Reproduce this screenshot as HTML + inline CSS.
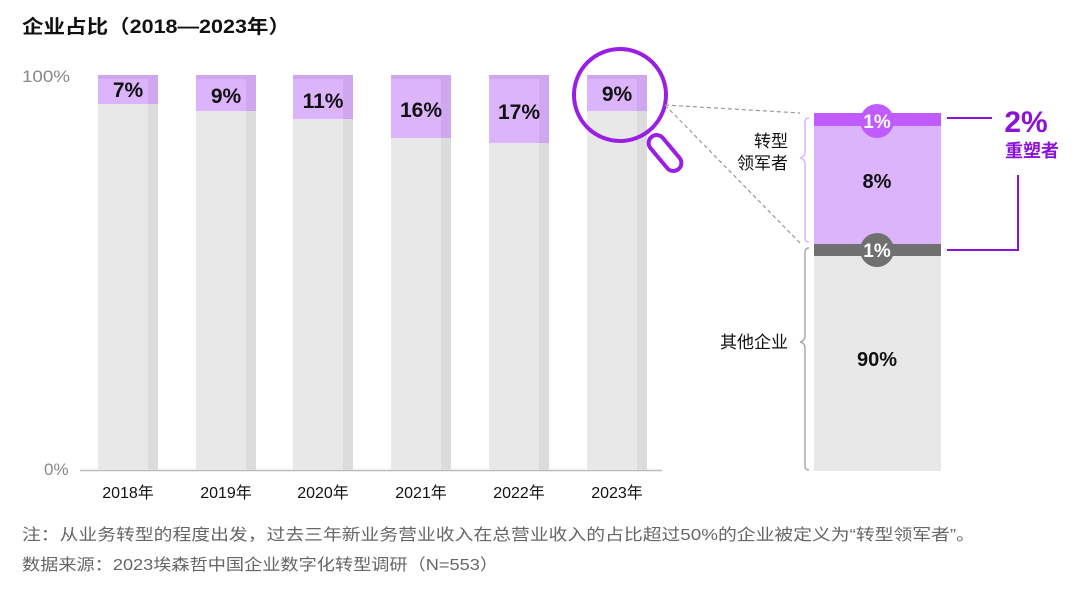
<!DOCTYPE html>
<html><head><meta charset="utf-8"><style>
body{margin:0;background:#fff;}
svg text{font-family:"Liberation Sans","Noto Sans CJK SC",sans-serif;}
</style></head><body>
<svg width="1080" height="592" viewBox="0 0 1080 592" xmlns="http://www.w3.org/2000/svg">
<rect width="1080" height="592" fill="#fff"/>
<text x="22" y="33" font-size="19" font-weight="bold" fill="#111" textLength="268" lengthAdjust="spacingAndGlyphs">企业占比（2018—2023年）</text>
<text x="22" y="82" font-size="17" fill="#888" textLength="48" lengthAdjust="spacingAndGlyphs">100%</text>
<text x="44" y="475" font-size="17" fill="#888">0%</text>
<line x1="80" y1="470.5" x2="662" y2="470.5" stroke="#bbb" stroke-width="1.5"/>
<g>
<rect x="98" y="75" width="60" height="395" fill="#e8e8e8"/><rect x="148" y="75" width="10" height="395" fill="#dcdcdc"/>
<rect x="98" y="75" width="60" height="29" fill="#dcb4fc"/><rect x="148" y="75" width="10" height="29" fill="#d0a6ef"/><rect x="98" y="75" width="60" height="4" fill="#d0a6ef"/>
<text x="128" y="97" font-size="21" font-weight="bold" text-anchor="middle" fill="#111">7%</text>

<rect x="196" y="75" width="60" height="395" fill="#e8e8e8"/><rect x="246" y="75" width="10" height="395" fill="#dcdcdc"/>
<rect x="196" y="75" width="60" height="36" fill="#dcb4fc"/><rect x="246" y="75" width="10" height="36" fill="#d0a6ef"/><rect x="196" y="75" width="60" height="4" fill="#d0a6ef"/>
<text x="226" y="103" font-size="21" font-weight="bold" text-anchor="middle" fill="#111">9%</text>

<rect x="293" y="75" width="60" height="395" fill="#e8e8e8"/><rect x="343" y="75" width="10" height="395" fill="#dcdcdc"/>
<rect x="293" y="75" width="60" height="44" fill="#dcb4fc"/><rect x="343" y="75" width="10" height="44" fill="#d0a6ef"/><rect x="293" y="75" width="60" height="4" fill="#d0a6ef"/>
<text x="323" y="108" font-size="21" font-weight="bold" text-anchor="middle" fill="#111">11%</text>

<rect x="391" y="75" width="60" height="395" fill="#e8e8e8"/><rect x="441" y="75" width="10" height="395" fill="#dcdcdc"/>
<rect x="391" y="75" width="60" height="63" fill="#dcb4fc"/><rect x="441" y="75" width="10" height="63" fill="#d0a6ef"/><rect x="391" y="75" width="60" height="4" fill="#d0a6ef"/>
<text x="421" y="117" font-size="21" font-weight="bold" text-anchor="middle" fill="#111">16%</text>

<rect x="489" y="75" width="60" height="395" fill="#e8e8e8"/><rect x="539" y="75" width="10" height="395" fill="#dcdcdc"/>
<rect x="489" y="75" width="60" height="68" fill="#dcb4fc"/><rect x="539" y="75" width="10" height="68" fill="#d0a6ef"/><rect x="489" y="75" width="60" height="4" fill="#d0a6ef"/>
<text x="519" y="119" font-size="21" font-weight="bold" text-anchor="middle" fill="#111">17%</text>

<rect x="587" y="75" width="60" height="395" fill="#e8e8e8"/><rect x="637" y="75" width="10" height="395" fill="#dcdcdc"/>
<rect x="587" y="75" width="60" height="36" fill="#dcb4fc"/><rect x="637" y="75" width="10" height="36" fill="#d0a6ef"/><rect x="587" y="75" width="60" height="4" fill="#d0a6ef"/>
<text x="617" y="101" font-size="21" font-weight="bold" text-anchor="middle" fill="#111">9%</text>
</g>
<g font-size="16" text-anchor="middle" fill="#111">
<text x="128" y="498">2018年</text><text x="226" y="498">2019年</text><text x="323" y="498">2020年</text>
<text x="421" y="498">2021年</text><text x="519" y="498">2022年</text><text x="617" y="498">2023年</text>
</g>
<circle cx="620" cy="95" r="46" fill="none" stroke="#9b1fe3" stroke-width="4"/>
<rect x="657" y="132" width="16" height="42" rx="8" transform="rotate(-40 665 153)" fill="#fff" stroke="#9b1fe3" stroke-width="4"/>
<line x1="665" y1="105" x2="800" y2="113" stroke="#999" stroke-width="1.2" stroke-dasharray="4 3"/>
<line x1="665" y1="105" x2="800" y2="243" stroke="#999" stroke-width="1.2" stroke-dasharray="4 3"/>
<rect x="814" y="256" width="127" height="215" fill="#e8e8e8"/>
<rect x="814" y="126" width="127" height="118" fill="#dcb4fc"/>
<rect x="814" y="113" width="127" height="13" fill="#c05cff"/>
<rect x="814" y="244" width="127" height="12" fill="#707070"/>
<circle cx="877" cy="121" r="17" fill="#c05cff"/>
<circle cx="877" cy="250" r="17" fill="#707070"/>
<text x="877" y="128" font-size="19" font-weight="bold" fill="#fff" text-anchor="middle">1%</text>
<text x="877" y="257" font-size="19" font-weight="bold" fill="#fff" text-anchor="middle">1%</text>
<text x="877" y="188" font-size="20" font-weight="bold" fill="#111" text-anchor="middle">8%</text>
<text x="877" y="366" font-size="20" font-weight="bold" fill="#111" text-anchor="middle">90%</text>
<path d="M809 118 Q805 118 805 122 L805 152 Q805 157 800 158 Q805 159 805 164 L805 238 Q805 242 809 242" fill="none" stroke="#dcb4fc" stroke-width="1.5"/>
<path d="M809 248 Q805 248 805 252 L805 336 Q805 341 800 342 Q805 343 805 348 L805 466 Q805 470 809 470" fill="none" stroke="#aaa" stroke-width="1.5"/>
<text x="788" y="147" font-size="17" fill="#111" text-anchor="end">转型</text>
<text x="788" y="169" font-size="17" fill="#111" text-anchor="end">领军者</text>
<text x="788" y="348" font-size="17" fill="#111" text-anchor="end">其他企业</text>
<line x1="947" y1="118" x2="992" y2="118" stroke="#8a12d9" stroke-width="2"/>
<polyline points="947,250 1018,250 1018,175" fill="none" stroke="#8a12d9" stroke-width="2"/>
<text x="1026" y="132" font-size="30" font-weight="bold" fill="#8a12d9" text-anchor="middle">2%</text>
<text x="1032" y="157" font-size="18" font-weight="bold" fill="#8a12d9" text-anchor="middle">重塑者</text>
<text x="22" y="540" font-size="16" fill="#666" textLength="953" lengthAdjust="spacingAndGlyphs">注：从业务转型的程度出发，过去三年新业务营业收入在总营业收入的占比超过50%的企业被定义为“转型领军者”。</text>
<text x="22" y="570" font-size="16" fill="#666" textLength="476" lengthAdjust="spacingAndGlyphs">数据来源：2023埃森哲中国企业数字化转型调研（N=553）</text>
</svg>
</body></html>
